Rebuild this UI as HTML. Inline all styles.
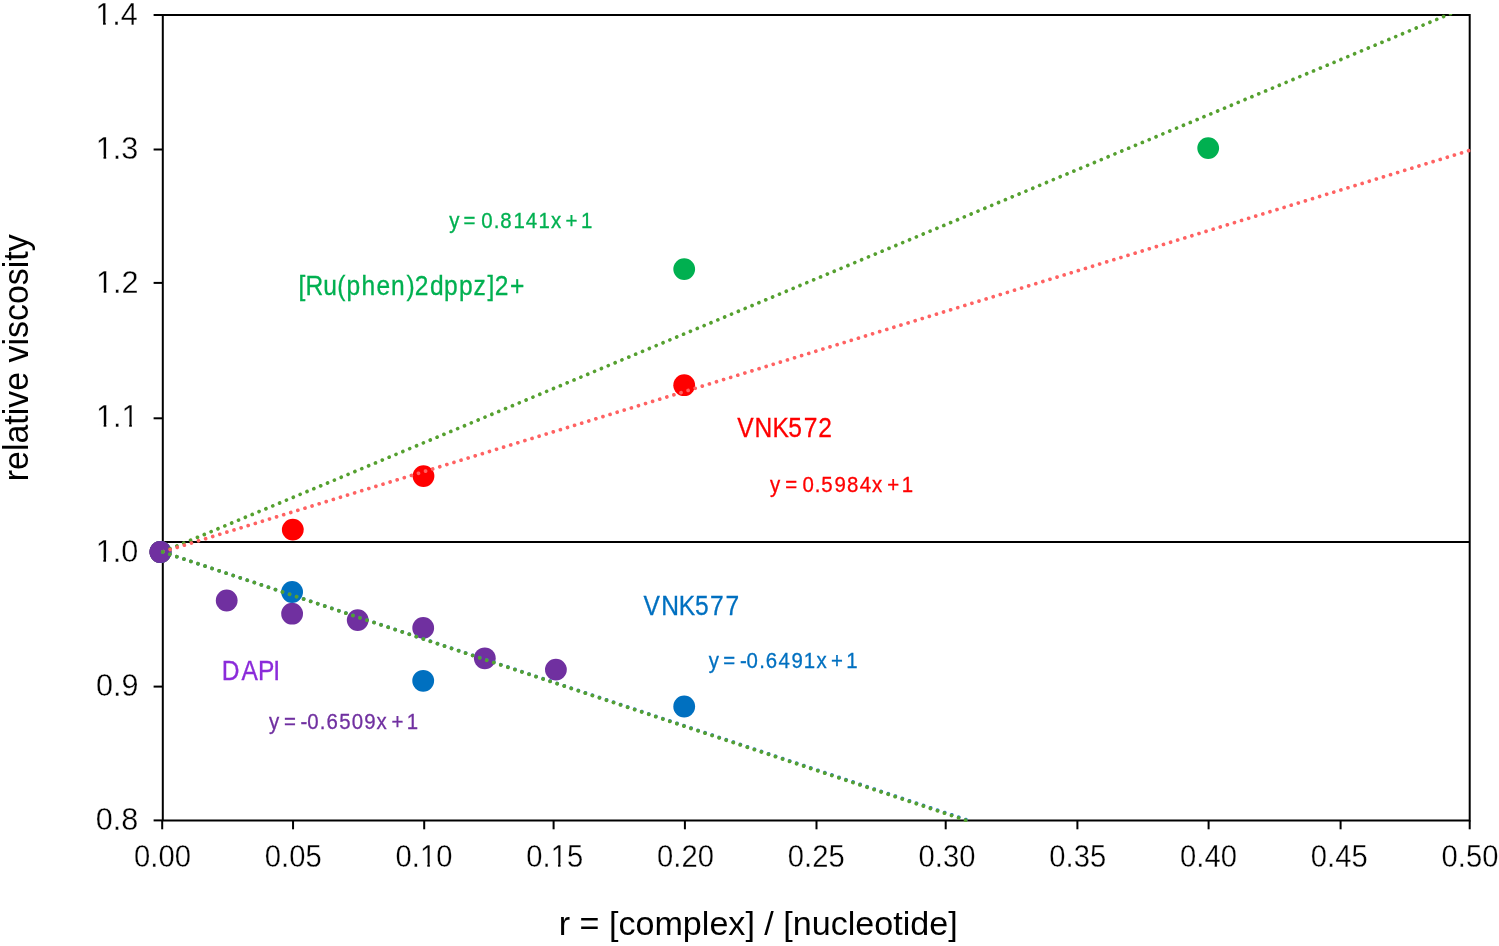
<!DOCTYPE html>
<html><head><meta charset="utf-8"><style>
html,body{margin:0;padding:0;background:#fff;}
svg{display:block;will-change:transform;}
text{font-family:"Liberation Sans",sans-serif;font-kerning:none;}
</style></head><body>
<svg width="1499" height="946" viewBox="0 0 1499 946">
<rect x="0" y="0" width="1499" height="946" fill="#fff"/>
<g stroke="#000" stroke-width="2" fill="none">
<path d="M162.8 15.0H1469.7V820.4H162.8Z"/>
<path d="M153.6 15.00H162.8"/>
<path d="M153.6 149.50H162.8"/>
<path d="M153.6 282.90H162.8"/>
<path d="M153.6 418.30H162.8"/>
<path d="M153.6 551.90H162.8"/>
<path d="M153.6 686.60H162.8"/>
<path d="M153.6 820.40H162.8"/>
<path d="M162.20 820.4V829.3"/>
<path d="M293.05 820.4V829.3"/>
<path d="M424.20 820.4V829.3"/>
<path d="M553.60 820.4V829.3"/>
<path d="M684.90 820.4V829.3"/>
<path d="M816.50 820.4V829.3"/>
<path d="M945.70 820.4V829.3"/>
<path d="M1077.40 820.4V829.3"/>
<path d="M1208.60 820.4V829.3"/>
<path d="M1340.60 820.4V829.3"/>
<path d="M1469.70 820.4V829.3"/>
<path d="M162.8 541.9H1469.7"/>
</g>
<text x="137.90" y="24.80" font-size="30.6" text-anchor="end" fill="#000" stroke="#fff" stroke-width="0.3">1.4</text>
<rect x="96.85" y="21.36" width="6.20" height="4.94" fill="#fff"/>
<rect x="105.76" y="21.36" width="6.04" height="4.94" fill="#fff"/>
<text x="138.34" y="159.03" font-size="30.6" text-anchor="end" fill="#000" stroke="#fff" stroke-width="0.3">1.3</text>
<rect x="97.30" y="155.59" width="6.20" height="4.94" fill="#fff"/>
<rect x="106.21" y="155.59" width="6.04" height="4.94" fill="#fff"/>
<text x="138.54" y="293.26" font-size="30.6" text-anchor="end" fill="#000" stroke="#fff" stroke-width="0.3">1.2</text>
<rect x="97.49" y="289.82" width="6.20" height="4.94" fill="#fff"/>
<rect x="106.40" y="289.82" width="6.04" height="4.94" fill="#fff"/>
<text x="138.49" y="427.49" font-size="30.6" text-anchor="end" fill="#000" stroke="#fff" stroke-width="0.3">1.1</text>
<rect x="97.45" y="424.05" width="6.20" height="4.94" fill="#fff"/>
<rect x="106.36" y="424.05" width="6.04" height="4.94" fill="#fff"/>
<rect x="122.97" y="424.05" width="6.20" height="4.94" fill="#fff"/>
<rect x="131.88" y="424.05" width="6.04" height="4.94" fill="#fff"/>
<text x="138.20" y="561.72" font-size="30.6" text-anchor="end" fill="#000" stroke="#fff" stroke-width="0.3">1.0</text>
<rect x="97.15" y="558.28" width="6.20" height="4.94" fill="#fff"/>
<rect x="106.06" y="558.28" width="6.04" height="4.94" fill="#fff"/>
<text x="138.45" y="695.95" font-size="30.6" text-anchor="end" fill="#000" stroke="#fff" stroke-width="0.3">0.9</text>
<text x="138.33" y="830.18" font-size="30.6" text-anchor="end" fill="#000" stroke="#fff" stroke-width="0.3">0.8</text>
<text x="134.11" y="866.7" font-size="31.2" fill="#000" stroke="#fff" stroke-width="0.3" textLength="56.78" lengthAdjust="spacingAndGlyphs">0.00</text>
<text x="264.86" y="866.7" font-size="31.2" fill="#000" stroke="#fff" stroke-width="0.3" textLength="56.78" lengthAdjust="spacingAndGlyphs">0.05</text>
<text x="395.61" y="866.7" font-size="31.2" fill="#000" stroke="#fff" stroke-width="0.3" textLength="56.78" lengthAdjust="spacingAndGlyphs">0.10</text>
<rect x="421.36" y="863.20" width="5.91" height="5.00" fill="#fff"/>
<rect x="429.85" y="863.20" width="5.75" height="5.00" fill="#fff"/>
<text x="526.36" y="866.7" font-size="31.2" fill="#000" stroke="#fff" stroke-width="0.3" textLength="56.78" lengthAdjust="spacingAndGlyphs">0.15</text>
<rect x="552.11" y="863.20" width="5.91" height="5.00" fill="#fff"/>
<rect x="560.60" y="863.20" width="5.75" height="5.00" fill="#fff"/>
<text x="657.11" y="866.7" font-size="31.2" fill="#000" stroke="#fff" stroke-width="0.3" textLength="56.78" lengthAdjust="spacingAndGlyphs">0.20</text>
<text x="787.86" y="866.7" font-size="31.2" fill="#000" stroke="#fff" stroke-width="0.3" textLength="56.78" lengthAdjust="spacingAndGlyphs">0.25</text>
<text x="918.61" y="866.7" font-size="31.2" fill="#000" stroke="#fff" stroke-width="0.3" textLength="56.78" lengthAdjust="spacingAndGlyphs">0.30</text>
<text x="1049.36" y="866.7" font-size="31.2" fill="#000" stroke="#fff" stroke-width="0.3" textLength="56.78" lengthAdjust="spacingAndGlyphs">0.35</text>
<text x="1180.11" y="866.7" font-size="31.2" fill="#000" stroke="#fff" stroke-width="0.3" textLength="56.78" lengthAdjust="spacingAndGlyphs">0.40</text>
<text x="1310.86" y="866.7" font-size="31.2" fill="#000" stroke="#fff" stroke-width="0.3" textLength="56.78" lengthAdjust="spacingAndGlyphs">0.45</text>
<text x="1441.61" y="866.7" font-size="31.2" fill="#000" stroke="#fff" stroke-width="0.3" textLength="56.78" lengthAdjust="spacingAndGlyphs">0.50</text>
<text x="558.74" y="935.30" font-size="34" fill="#000" textLength="399.00" lengthAdjust="spacingAndGlyphs">r = [complex] / [nucleotide]</text>
<text transform="rotate(-90)" x="-481.25" y="27.7" font-size="34.5" fill="#000" textLength="247.02" lengthAdjust="spacingAndGlyphs">relative viscosity</text>
<circle cx="684.2" cy="269.1" r="10.9" fill="#00B050"/>
<circle cx="1208.2" cy="148.1" r="10.9" fill="#00B050"/>
<circle cx="292.8" cy="529.6" r="10.9" fill="#FF0000"/>
<circle cx="423.5" cy="476.1" r="10.9" fill="#FF0000"/>
<circle cx="684.2" cy="385.2" r="10.9" fill="#FF0000"/>
<circle cx="292.1" cy="592.0" r="10.9" fill="#0070C0"/>
<circle cx="423.2" cy="680.8" r="10.9" fill="#0070C0"/>
<circle cx="684.2" cy="706.5" r="10.9" fill="#0070C0"/>
<circle cx="160.5" cy="552" r="10.9" fill="#00B050"/>
<circle cx="160.5" cy="552" r="10.9" fill="#FF0000"/>
<circle cx="160.5" cy="552" r="10.9" fill="#0070C0"/>
<circle cx="160.3" cy="552" r="10.9" fill="#7030A0"/>
<circle cx="226.7" cy="600.5" r="10.9" fill="#7030A0"/>
<circle cx="292.1" cy="613.7" r="10.9" fill="#7030A0"/>
<circle cx="357.7" cy="620.1" r="10.9" fill="#7030A0"/>
<circle cx="423.2" cy="627.9" r="10.9" fill="#7030A0"/>
<circle cx="484.8" cy="658.3" r="10.9" fill="#7030A0"/>
<circle cx="555.9" cy="669.6" r="10.9" fill="#7030A0"/>
<clipPath id="pc"><rect x="150" y="14" width="1321" height="808"/></clipPath>
<g clip-path="url(#pc)">
<path d="M162.50 551.92L1458.23 10.45" stroke="#55A02F" stroke-width="3.7" stroke-linecap="round" stroke-dasharray="0.01 7.411" stroke-dashoffset="-0.75" fill="none"/>
<path d="M162.50 551.92L1470.00 150.30" stroke="#FF6262" stroke-width="3.7" stroke-linecap="round" stroke-dasharray="0.01 7.4125" stroke-dashoffset="-0.57" fill="none"/>
<path d="M162.50 551.92L968.18 820.36" stroke="#2F7FC0" stroke-width="3.7" stroke-linecap="round" stroke-dasharray="0.01 7.415" stroke-dashoffset="-7.7" fill="none"/>
<path d="M162.50 551.92L966.61 820.58" stroke="#55A02F" stroke-width="3.7" stroke-linecap="round" stroke-dasharray="0.01 7.415" stroke-dashoffset="-7.7" fill="none"/>
</g>
<text transform="scale(0.95,1)" x="472.83 483.58 487.78 500.34 506.71 519.75 526.55 540.57 553.30 566.73 579.94 590.69 595.36 607.91 611.67" y="228.40" font-size="21.5" fill="#00B050" stroke="#00B050" stroke-width="0.3" xml:space="preserve">y = 0.8141x + 1</text>
<text transform="scale(0.9,1)" x="331.56 339.43 359.32 374.69 384.99 401.79 418.32 434.50 451.61 460.85 477.83 493.21 510.10 526.08 541.63 549.63 566.59" y="295.50" font-size="27.3" fill="#00B050" stroke="#00B050" stroke-width="0.3" xml:space="preserve">[Ru(phen)2dppz]2+</text>
<text transform="scale(0.9,1)" x="819.12 838.47 858.26 875.77 892.95 909.08" y="437.50" font-size="27.3" fill="#FF0000" stroke="#FF0000" stroke-width="0.3" xml:space="preserve">VNK572</text>
<text transform="scale(0.95,1)" x="810.62 821.37 826.46 839.02 844.65 857.75 864.46 878.34 891.60 905.04 917.88 928.63 934.04 946.60 949.20" y="492.20" font-size="21.5" fill="#FF0000" stroke="#FF0000" stroke-width="0.3" xml:space="preserve">y = 0.5984x + 1</text>
<text transform="scale(0.9,1)" x="715.01 734.69 754.26 772.32 788.95 806.06" y="614.80" font-size="27.3" fill="#0070C0" stroke="#0070C0" stroke-width="0.3" xml:space="preserve">VNK577</text>
<text transform="scale(0.95,1)" x="746.09 756.84 761.20 773.76 779.05 785.92 799.33 806.05 819.35 833.18 846.04 859.46 870.21 874.67 887.23 890.67" y="667.70" font-size="21.5" fill="#0070C0" stroke="#0070C0" stroke-width="0.3" xml:space="preserve">y = -0.6491x + 1</text>
<text transform="scale(0.9,1)" x="246.34 268.45 286.61 303.54" y="680.50" font-size="27.3" fill="#8B2BDA" stroke="#8B2BDA" stroke-width="0.3" xml:space="preserve">DAPI</text>
<text transform="scale(0.95,1)" x="283.15 293.90 298.89 311.44 316.21 323.39 336.70 343.74 357.09 370.23 383.50 396.41 407.16 412.15 424.70 428.15" y="729.30" font-size="21.5" fill="#7030A0" stroke="#7030A0" stroke-width="0.3" xml:space="preserve">y = -0.6509x + 1</text>
</svg>
</body></html>
